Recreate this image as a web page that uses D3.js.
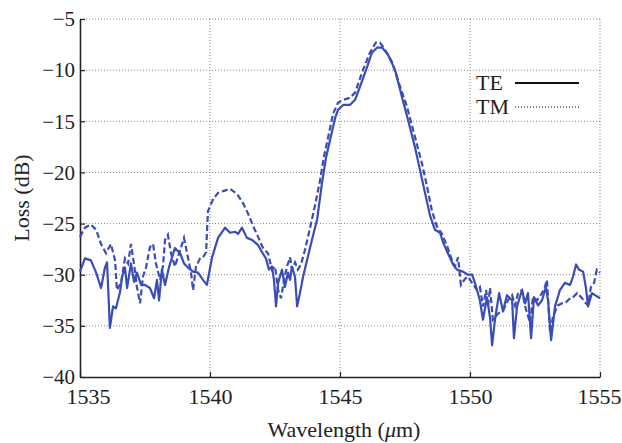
<!DOCTYPE html>
<html>
<head>
<meta charset="utf-8">
<script src="https://cdn.jsdelivr.net/npm/d3@7"></script>
<style>
  body { margin: 0; background: #fff; }
  text { font-family: "Liberation Serif", "DejaVu Serif", serif; fill: #222; }
</style>
</head>
<body>
<div class="chart"></div>
<script>

// wavelength (nm) and loss (dB)
const teWave = [1535.00,1535.19,1535.42,1535.62,1535.81,1535.96,1536.04,1536.15,1536.27,1536.38,1536.54,1536.62,1536.73,1536.81,1536.96,1537.08,1537.19,1537.35,1537.50,1537.69,1537.85,1537.96,1538.04,1538.15,1538.27,1538.42,1538.54,1538.65,1538.85,1539.00,1539.15,1539.35,1539.54,1539.73,1539.88,1540.08,1540.31,1540.58,1540.77,1540.96,1541.08,1541.23,1541.42,1541.62,1541.85,1542.00,1542.15,1542.27,1542.38,1542.46,1542.54,1542.62,1542.77,1542.88,1543.00,1543.08,1543.15,1543.27,1543.35,1543.46,1543.58,1543.73,1543.92,1544.12,1544.31,1544.46,1544.62,1544.81,1544.92,1545.12,1545.38,1545.58,1545.77,1546.04,1546.23,1546.42,1546.62,1546.85,1547.12,1547.38,1547.62,1547.88,1548.08,1548.27,1548.46,1548.65,1548.85,1548.96,1549.15,1549.35,1549.50,1549.73,1549.92,1550.08,1550.19,1550.38,1550.50,1550.65,1550.77,1550.85,1550.96,1551.12,1551.27,1551.42,1551.62,1551.69,1551.81,1552.00,1552.12,1552.23,1552.35,1552.46,1552.62,1552.77,1552.92,1553.00,1553.12,1553.27,1553.46,1553.65,1553.85,1553.96,1554.08,1554.19,1554.35,1554.46,1554.54,1554.69,1554.81,1555.00];
const teLoss = [-29.7,-28.4,-28.6,-29.8,-31.3,-29.3,-28.8,-35.2,-33.1,-33.3,-31.7,-30.2,-29.3,-31.3,-28.9,-30.7,-29.8,-31.0,-31.0,-31.3,-32.3,-30.5,-32.5,-29.5,-31.0,-29.3,-28.3,-27.4,-27.9,-28.9,-29.3,-29.7,-29.8,-30.5,-31.0,-28.3,-26.4,-25.4,-25.9,-25.8,-26.0,-25.4,-26.4,-26.6,-27.1,-27.8,-28.4,-29.5,-29.2,-30.5,-33.1,-30.8,-29.5,-31.2,-29.8,-30.5,-29.2,-30.2,-33.1,-31.8,-30.2,-28.6,-26.6,-24.6,-21.0,-18.6,-16.8,-14.7,-13.9,-13.4,-13.4,-12.9,-11.6,-9.7,-8.3,-7.8,-7.8,-8.5,-10.0,-12.6,-14.9,-17.5,-19.8,-22.0,-24.2,-25.6,-25.9,-26.8,-27.9,-29.0,-29.5,-29.7,-30.0,-30.0,-30.8,-32.5,-34.4,-32.2,-34.2,-36.9,-34.4,-31.8,-33.6,-32.0,-32.5,-36.2,-33.1,-31.5,-32.8,-31.8,-36.2,-32.2,-33.0,-32.5,-31.2,-32.5,-36.4,-33.1,-31.5,-30.8,-31.0,-30.2,-29.0,-29.5,-29.7,-31.3,-33.1,-31.8,-32.0,-32.3];

const tmWave = [1535.00,1535.19,1535.42,1535.62,1535.81,1536.00,1536.19,1536.35,1536.42,1536.58,1536.73,1536.85,1536.96,1537.08,1537.19,1537.31,1537.42,1537.54,1537.69,1537.81,1537.92,1538.08,1538.19,1538.27,1538.38,1538.50,1538.65,1538.85,1539.00,1539.12,1539.27,1539.35,1539.46,1539.62,1539.73,1539.85,1539.92,1540.12,1540.31,1540.54,1540.77,1541.04,1541.27,1541.46,1541.65,1541.85,1542.04,1542.23,1542.38,1542.50,1542.62,1542.73,1542.85,1542.96,1543.08,1543.15,1543.27,1543.38,1543.50,1543.65,1543.85,1544.04,1544.23,1544.38,1544.54,1544.73,1544.92,1545.12,1545.38,1545.58,1545.88,1546.15,1546.38,1546.54,1546.73,1547.00,1547.31,1547.58,1547.88,1548.15,1548.35,1548.54,1548.73,1548.92,1549.12,1549.31,1549.42,1549.54,1549.65,1549.81,1549.92,1550.08,1550.27,1550.38,1550.50,1550.62,1550.69,1550.77,1550.88,1551.08,1551.27,1551.46,1551.62,1551.73,1551.85,1552.00,1552.12,1552.31,1552.42,1552.58,1552.77,1552.88,1552.96,1553.08,1553.19,1553.38,1553.54,1553.69,1553.85,1553.96,1554.12,1554.31,1554.42,1554.54,1554.65,1554.77,1554.88,1555.00];
const tmLoss = [-26.3,-25.4,-25.1,-25.6,-27.0,-27.9,-27.0,-28.6,-31.5,-30.8,-28.4,-28.9,-27.0,-29.0,-31.2,-32.8,-30.2,-29.3,-27.3,-27.0,-28.9,-30.5,-29.2,-26.6,-26.1,-27.9,-29.2,-27.6,-26.4,-27.9,-29.8,-31.5,-29.2,-28.4,-28.3,-27.8,-23.8,-22.6,-22.0,-21.8,-21.6,-22.1,-23.0,-24.0,-25.2,-26.3,-27.4,-27.9,-29.5,-29.2,-31.5,-32.3,-30.5,-29.2,-28.3,-29.5,-28.8,-29.5,-29.0,-27.6,-25.4,-23.2,-20.8,-18.5,-16.6,-14.3,-13.2,-12.9,-12.7,-12.2,-10.0,-8.3,-7.3,-7.3,-8.0,-9.2,-11.6,-13.6,-16.5,-19.1,-21.4,-23.8,-25.3,-26.0,-27.2,-28.6,-29.2,-28.3,-31.0,-30.4,-30.2,-30.8,-31.5,-31.2,-33.1,-31.5,-33.1,-31.3,-34.4,-33.8,-33.5,-32.5,-32.0,-33.0,-31.8,-31.5,-33.1,-34.7,-32.2,-32.5,-31.8,-31.2,-30.5,-35.7,-34.1,-33.0,-32.8,-32.7,-32.3,-32.2,-31.8,-32.3,-32.7,-33.0,-31.2,-30.8,-29.5,-29.8];

const xTicks = [1535, 1540, 1545, 1550, 1555];
const yTicks = [-40, -35, -30, -25, -20, -15, -10, -5];
const legendNames = ['TE', 'TM'];

const W = 622, H = 443;
const margin = { top: 19, right: 22, bottom: 66, left: 80 };
const blue = '#3a4cb8';

let svg = d3.select('.chart')
  .append('svg')
  .attr('width', W)
  .attr('height', H)
  ;

const x = d3.scaleLinear()
  .domain([1535, 1555])
  .range([margin.left, W - margin.right])
  ;

const y = d3.scaleLinear()
  .domain([-40, -5])
  .range([H - margin.bottom, margin.top])
  ;

// dotted grid
svg.append('g')
  .selectAll('line.vg')
  .data(xTicks.slice(1))
  .enter()
    .append('line')
      .attr('x1', d => x(d)).attr('x2', d => x(d))
      .attr('y1', y(-40)).attr('y2', y(-5))
      .attr('stroke', '#888')
      .attr('stroke-dasharray', '1,2')
      ;

svg.append('g')
  .selectAll('line.hg')
  .data(yTicks.slice(1))
  .enter()
    .append('line')
      .attr('x1', x(1535)).attr('x2', x(1555))
      .attr('y1', d => y(d)).attr('y2', d => y(d))
      .attr('stroke', '#888')
      .attr('stroke-dasharray', '1,2')
      ;

// axes, ticks point inwards
const xAxis = svg.append('g')
  .attr('transform', `translate(0,${y(-40)})`)
  .call(d3.axisBottom(x).tickValues(xTicks).tickSizeInner(-5).tickSizeOuter(0).tickPadding(11)
    .tickFormat(d3.format('d')))
  ;

const yAxis = svg.append('g')
  .attr('transform', `translate(${x(1535)},0)`)
  .call(d3.axisLeft(y).tickValues(yTicks).tickSizeInner(-5).tickSizeOuter(0).tickPadding(5)
    .tickFormat(d => d3.format('d')(d).replace('-', '\u2212')))
  ;

[xAxis, yAxis].forEach(a => {
  a.select('.domain').attr('stroke', '#222').attr('stroke-width', 1.6);
  a.selectAll('.tick line').attr('stroke', '#222').attr('stroke-width', 1.2);
  a.selectAll('.tick text').attr('font-size', 22).attr('fill', '#222')
    .attr('font-family', '"Liberation Serif", serif');
});

yAxis.selectAll('.tick text').attr('font-size', 21);
// first label is pushed off the corner, as in the picture
xAxis.selectAll('.tick text').filter(d => d === 1535).attr('dx', 8);
xAxis.selectAll('.tick text').filter(d => d === 1555).attr('dx', -1);

// curves
const line = d3.line()
  .x(d => x(d[0]))
  .y(d => y(d[1]))
  ;

const te = teWave.map((w, i) => [w, teLoss[i]]);
const tm = tmWave.map((w, i) => [w, tmLoss[i]]);

svg.append('path')
  .datum(tm)
  .attr('fill', 'none')
  .attr('stroke', blue)
  .attr('stroke-width', 2.2)
  .attr('stroke-dasharray', '6,3')
  .attr('d', line)
  ;

svg.append('path')
  .datum(te)
  .attr('fill', 'none')
  .attr('stroke', blue)
  .attr('stroke-width', 2.2)
  .attr('stroke-linejoin', 'round')
  .attr('d', line)
  ;

// legend
let legend = svg.append('g')
  .selectAll('g')
  .data(legendNames)
  .enter()
    .append('g')
      .attr('transform', (d, i) => `translate(476,${83 + i * 24})`)
      ;

legend.append('text')
  .attr('y', 7)
  .attr('font-size', 22)
  .text(d => d)
  ;

legend.append('line')
  .attr('x1', 39).attr('x2', 103)
  .attr('stroke', d => d === 'TE' ? '#111' : '#555')
  .attr('stroke-width', d => d === 'TE' ? 2 : 1.5)
  .attr('stroke-dasharray', d => d === 'TE' ? null : '1,2')
  ;

// axis titles
let xTitle = svg.append('text')
  .attr('x', (x(1535) + x(1555)) / 2 + 4)
  .attr('y', 437)
  .attr('text-anchor', 'middle')
  .attr('font-size', 22)
  ;
xTitle.append('tspan').text('Wavelength (');
xTitle.append('tspan').attr('font-style', 'italic').text('\u03bc');
xTitle.append('tspan').text('m)');

svg.append('text')
  .attr('transform', `translate(29,${(y(-40) + y(-5)) / 2}) rotate(-90)`)
  .attr('text-anchor', 'middle')
  .attr('font-size', 22)
  .text('Loss (dB)')
  ;

</script>
</body>
</html>
